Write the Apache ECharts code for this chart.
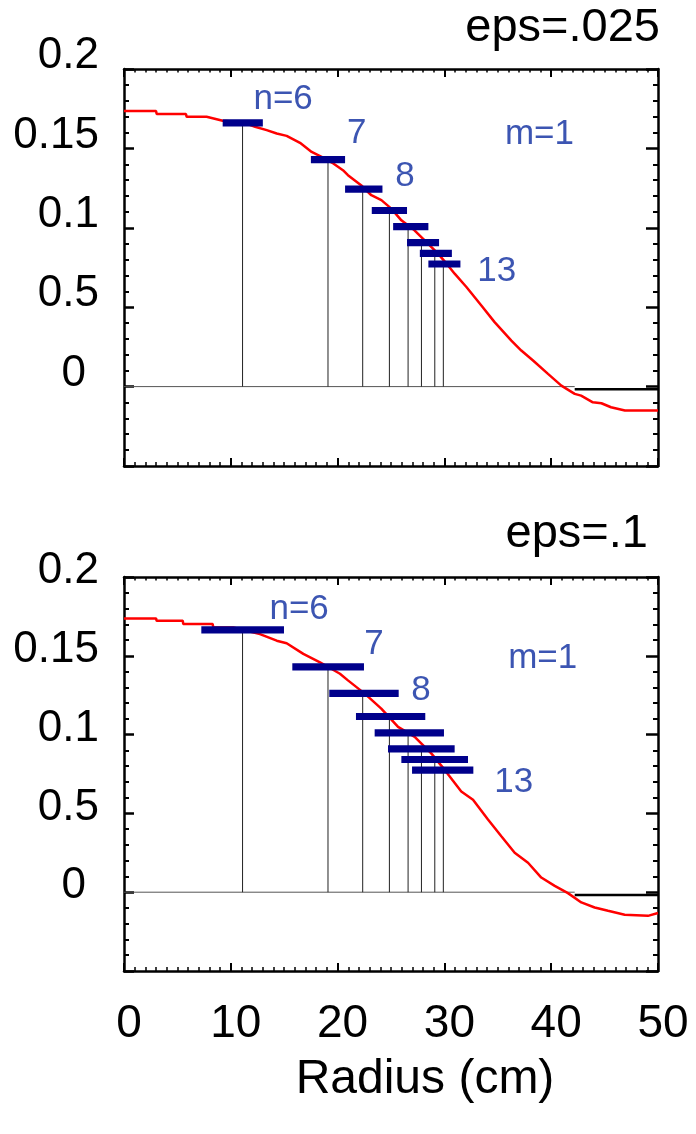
<!DOCTYPE html>
<html>
<head>
<meta charset="utf-8">
<script src="https://cdn.jsdelivr.net/npm/echarts@6/dist/echarts.min.js"></script>
<style>html,body{margin:0;padding:0;background:#fff;}#c{width:696px;height:1134px;}</style>
</head>
<body>
<div id="c"></div>
<script>
// ---------- data ----------
const panelTitles = ['eps=.025', 'eps=.1'];
const yTickValues = [0, 0.05, 0.1, 0.15, 0.2];
const yTickLabels = ['0', '0.5', '0.1', '0.15', '0.2'];
const xTickLabels = ['0', '10', '20', '30', '40', '50'];
const xAxisTitle = 'Radius (cm)';

// red curve, top panel (eps=.025)
const curve1X = [0, 3.0, 3.06, 5.8, 5.87, 7.74, 9.24, 11.1, 12.27, 13.36, 14.3, 15.23, 16.48, 17.57, 18.5, 19.6, 20.5, 20.97, 22.2, 23.16, 24.1, 25.03, 25.97, 27.2, 28.46, 29.4, 30.34, 30.96, 32.06, 33.46, 34.7, 36.27, 37.2, 38.3, 39.7, 40.95, 42.2, 42.8, 43.9, 44.7, 45.6, 46.9, 50];
const curve1Y = [0.1735, 0.1735, 0.1716, 0.1716, 0.1699, 0.1699, 0.1674, 0.1665, 0.1636, 0.1615, 0.1594, 0.1579, 0.1535, 0.1478, 0.1447, 0.1405, 0.1363, 0.1331, 0.1268, 0.1205, 0.1174, 0.1121, 0.1047, 0.0984, 0.0900, 0.0837, 0.0763, 0.0711, 0.0627, 0.0511, 0.0406, 0.0290, 0.0227, 0.0164, 0.0080, 0.0006, -0.0046, -0.0057, -0.0099, -0.0105, -0.0130, -0.0151, -0.0151];
// red curve, bottom panel (eps=.1)
const curve2X = [0, 3.0, 3.06, 5.5, 5.55, 8.3, 8.36, 10.23, 12.73, 14.3, 15.23, 16.79, 18.35, 20.22, 20.97, 22.54, 24.09, 25.66, 27.22, 28.46, 28.77, 30.03, 31.58, 32.68, 34.08, 35.33, 36.58, 37.83, 39.07, 40.33, 41.57, 42.82, 44.07, 45.32, 46.88, 49.06, 50];
const curve2Y = [0.1737, 0.1737, 0.1722, 0.1722, 0.1702, 0.1702, 0.1680, 0.1680, 0.1638, 0.1596, 0.1580, 0.1512, 0.1459, 0.1386, 0.1344, 0.1260, 0.1165, 0.1049, 0.0986, 0.0902, 0.0881, 0.0776, 0.0639, 0.0587, 0.0461, 0.0355, 0.0250, 0.0187, 0.0093, 0.0040, -0.0006, -0.0065, -0.0097, -0.0118, -0.0143, -0.0150, -0.0132];

// stems (vertical lines) and horizontal bars n=6..13
const stemX = [11.1, 19.1, 22.35, 24.85, 26.6, 27.85, 29.1, 29.9];
const bar1Y = [0.1661, 0.1429, 0.1244, 0.1109, 0.1008, 0.0907, 0.0839, 0.0772];
const bar1L = [9.24, 17.5, 20.7, 23.2, 25.2, 26.5, 27.7, 28.5];
const bar1R = [13.0, 20.7, 24.2, 26.5, 28.5, 29.5, 30.7, 31.5];
const bar2Y = [0.1664, 0.1430, 0.1262, 0.1115, 0.1011, 0.0910, 0.0842, 0.0774];
const bar2L = [7.24, 15.76, 19.22, 21.72, 23.47, 24.72, 25.97, 26.97];
const bar2R = [14.98, 22.47, 25.72, 28.21, 29.96, 30.96, 32.21, 32.71];

// zero line pieces: thin grey, then thick black
const zeroGreyX = [0, 42.2];
const zeroGreyY = [0, 0];
const zeroBlackX = [42.2, 50];
const zeroBlackY = [-0.0017, -0.0017];

// annotation labels
const annText = ['n=6', '7', '8', '13', 'm=1'];
const ann1X = [14.9, 21.8, 26.3, 34.9, 38.9];
const ann1Y = [0.1811, 0.1596, 0.1325, 0.0726, 0.159];
const ann2X = [16.4, 23.4, 27.8, 36.5, 39.2];
const ann2Y = [0.1792, 0.1571, 0.1281, 0.0694, 0.1483];

// ---------- chart ----------
const FONT = '"Liberation Sans", Arial, Helvetica, sans-serif';
const zip = (a, b) => a.map((v, i) => [v, b[i]]);
const chart = echarts.init(document.getElementById('c'), null, {renderer: 'canvas'});

const grids = [
  {left: 124, top: 69, width: 534, height: 397},
  {left: 124, top: 577, width: 534, height: 394}
];
const yLabelShift = [26, 12];

function yLabelFmt(v) {
  const i = yTickValues.findIndex(t => Math.abs(t - v) < 1e-9);
  if (i < 0) return '';
  if (yTickLabels[i] === '0') return '{z|0}';
  return yTickLabels[i];
}
function xLabelFmt(v) {
  const i = Math.round(v / 10);
  return (Math.abs(v - i * 10) < 1e-9 && xTickLabels[i] !== undefined) ? xTickLabels[i] : '';
}

const xAxes = [], yAxes = [], series = [];
grids.forEach((g, k) => {
  const axisLine = {show: true, onZero: false, lineStyle: {color: '#000', width: 2.5}};
  // bottom x
  xAxes.push({
    gridIndex: k, type: 'value', min: 0, max: 50, interval: 10, position: 'bottom',
    axisLine, splitLine: {show: false},
    axisTick: {show: true, inside: true, length: 8, lineStyle: {color: '#000', width: 2}},
    minorTick: {show: true, splitNumber: 10, length: 4, lineStyle: {color: '#000', width: 1.5}},
    axisLabel: k === 1 ? {show: true, formatter: xLabelFmt, fontSize: 46, fontFamily: FONT, color: '#000', margin: 30, padding: [0, 0, 0, 10], showMinLabel: true, showMaxLabel: true, hideOverlap: false} : {show: false},
    name: k === 1 ? xAxisTitle : '',
    nameLocation: 'middle', nameGap: 85,
    nameTextStyle: {fontSize: 48, fontFamily: FONT, color: '#000', padding: [0, 0, 0, 68]}
  });
  // top x
  xAxes.push({
    gridIndex: k, type: 'value', min: 0, max: 50, interval: 10, position: 'top',
    axisLine, splitLine: {show: false},
    axisTick: {show: true, inside: true, length: 8, lineStyle: {color: '#000', width: 2}},
    minorTick: {show: true, splitNumber: 10, length: 3.5, lineStyle: {color: '#000', width: 1.5}},
    axisLabel: {show: false}
  });
  // left y
  yAxes.push({
    gridIndex: k, type: 'value', min: -0.05, max: 0.2, interval: 0.05, position: 'left',
    axisLine, splitLine: {show: false},
    axisTick: {show: true, inside: true, length: 10, lineStyle: {color: '#000', width: 2.5}},
    minorTick: {show: true, splitNumber: 5, length: 5, lineStyle: {color: '#000', width: 2}},
    axisLabel: {show: true, formatter: yLabelFmt, fontSize: 44, fontFamily: FONT, color: '#000', margin: 25,
      padding: [0, 0, yLabelShift[k], 0], showMinLabel: true, showMaxLabel: true, hideOverlap: false,
      rich: {z: {fontSize: 44, fontFamily: FONT, color: '#000', padding: [0, 13, 0, 0]}}}
  });
  // right y
  yAxes.push({
    gridIndex: k, type: 'value', min: -0.05, max: 0.2, interval: 0.05, position: 'right',
    axisLine, splitLine: {show: false},
    axisTick: {show: true, inside: true, length: 12, lineStyle: {color: '#000', width: 2.5}},
    minorTick: {show: true, splitNumber: 5, length: 5, lineStyle: {color: '#000', width: 2}},
    axisLabel: {show: false}
  });
  const xi = k * 2, yi = k * 2;
  const cx = k === 0 ? curve1X : curve2X, cy = k === 0 ? curve1Y : curve2Y;
  const by = k === 0 ? bar1Y : bar2Y, bl = k === 0 ? bar1L : bar2L, br = k === 0 ? bar1R : bar2R;
  const ax = k === 0 ? ann1X : ann2X, ay = k === 0 ? ann1Y : ann2Y;

  series.push({type: 'line', xAxisIndex: xi, yAxisIndex: yi, data: zip(zeroGreyX, zeroGreyY), symbol: 'none',
    lineStyle: {color: '#555', width: 1}, silent: true, z: 2, animation: false});
  series.push({type: 'line', xAxisIndex: xi, yAxisIndex: yi, data: zip(zeroBlackX, zeroBlackY), symbol: 'none',
    lineStyle: {color: '#000', width: 2.5}, silent: true, z: 2, animation: false});
  series.push({type: 'line', xAxisIndex: xi, yAxisIndex: yi, data: zip(cx, cy), symbol: 'none',
    lineStyle: {color: '#ff0000', width: 2.5}, silent: true, z: 3, animation: false});
  series.push({
    type: 'custom', xAxisIndex: xi, yAxisIndex: yi, z: 4, animation: false, silent: true,
    data: stemX.map((x, i) => [x, by[i], bl[i], br[i]]),
    encode: {x: 0, y: 1},
    renderItem: function (params, api) {
      const x = api.value(0), y = api.value(1), l = api.value(2), r = api.value(3);
      const p0 = api.coord([x, 0]), p1 = api.coord([x, y]);
      const a = api.coord([l, y]), b = api.coord([r, y]);
      return {type: 'group', children: [
        {type: 'line', shape: {x1: p0[0], y1: p0[1], x2: p1[0], y2: p1[1]}, style: {stroke: '#222', lineWidth: 1}},
        {type: 'rect', shape: {x: a[0], y: a[1] - 3.6, width: b[0] - a[0], height: 7.2}, style: {fill: '#00008b'}}
      ]};
    }
  });
  series.push({
    type: 'scatter', xAxisIndex: xi, yAxisIndex: yi, symbolSize: 0, z: 5, silent: true, animation: false,
    data: zip(ax, ay),
    label: {show: true, position: 'inside', formatter: p => annText[p.dataIndex], fontSize: 35, fontFamily: FONT,
      color: '#0b2a9f', align: 'center', verticalAlign: 'middle'}
  });
});

chart.setOption({
  animation: false,
  backgroundColor: '#fff',
  title: [
    {text: panelTitles[0], right: 36, top: 5, padding: 0, textStyle: {fontSize: 47, fontWeight: 'normal', color: '#000', fontFamily: FONT}},
    {text: panelTitles[1], right: 48, top: 511, padding: 0, textStyle: {fontSize: 47, fontWeight: 'normal', color: '#000', fontFamily: FONT}}
  ],
  grid: grids.map(g => Object.assign({outerBoundsMode: 'none', containLabel: false}, g)),
  xAxis: xAxes,
  yAxis: yAxes,
  series: series
});
</script>
</body>
</html>
